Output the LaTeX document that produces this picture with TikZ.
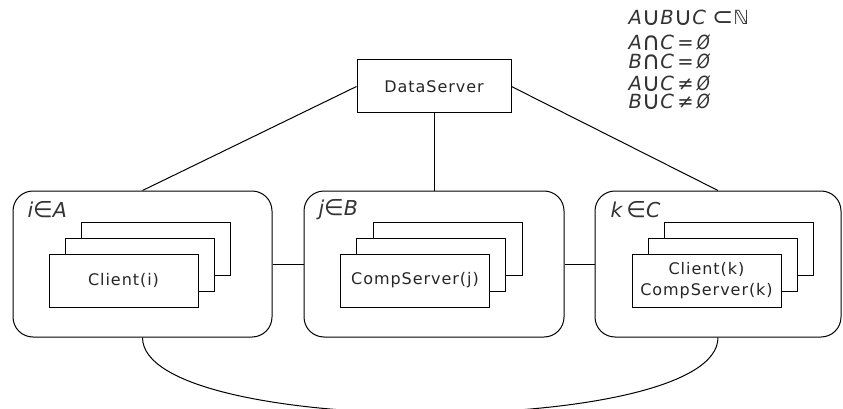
\documentclass[tikz,border=0pt]{standalone}
\usepackage{fontspec}
\setmainfont{DejaVu Sans}
\newfontfamily\boxfont[LetterSpace=6]{DejaVu Sans}
% enlarged set-operator glyphs
\newcommand{\bigop}[1]{\raisebox{-0.05em}{\scalebox{1.3}{#1}}}
\newcommand{\elem}{\scalebox{1.1}{∈}}
\newcommand{\emptyslash}{\textit{\scalebox{0.85}[1]{Ø}}}
\begin{document}
\begin{tikzpicture}[x=1pt, y=-1pt, line width=1pt,
  group/.style={draw, rounded corners=20pt, minimum height=146pt, inner sep=0pt},
  card/.style={draw, fill=white, minimum width=149pt, minimum height=53pt, inner sep=0pt,
               font=\boxfont\fontsize{16}{19}\selectfont, text=black!85, align=center},
  setlabel/.style={anchor=west, inner sep=0pt, font=\fontsize{20.5}{22}\selectfont, text=black!80},
  rel/.style={anchor=north west, inner sep=0pt, align=left,
              font=\fontsize{19.5}{19.5}\selectfont, text=black!80}]
\useasboundingbox (0,0) rectangle (843,409);

% data server
\node[card, minimum width=154pt] (ds) at (434,86.5) {DataServer};

% the three groups
\node[group, minimum width=259pt] (A) at (142.5,264) {};
\node[group, minimum width=260pt] (B) at (434,264) {};
\node[group, minimum width=246pt] (C) at (718,264) {};

\node[setlabel] (la) at (27,210) {\textit{i}\elem\textit{A}};
\node[setlabel] (lb) at (318,210) {\textit{j}\elem\textit{B}};
\node[setlabel] (lc) at (610,210) {\textit{k}\,\elem\textit{C}};

% stacked process cards
\node[card] (a3) at (155.5,248.5) {};
\node[card] (a2) at (140,264.5) {};
\node[card] (a1) at (123.5,280.5) {Client(i)};

\node[card] (b3) at (447.5,248.5) {};
\node[card] (b2) at (431,264.5) {};
\node[card] (b1) at (415,280.5) {CompServer(j)};

\node[card] (c3) at (738.5,248.5) {};
\node[card] (c2) at (723,264.5) {};
\node[card, font=\boxfont\fontsize{16}{21}\selectfont] (c1) at (706.5,280.5) {Client(k)\\CompServer(k)};

% connections
\draw (ds.west) -- (A.north);
\draw (ds.south) -- (B.north);
\draw (ds.east) -- (C.north);
\draw (A.east) -- (B.west);
\draw (B.east) -- (C.west);
\draw (A.south) .. controls +(0,101) and +(0,101) .. (C.south);

% set relations
\node[rel] (rels) at (628,10) {%
  \textit{A}\bigop{∪}\textit{B}\bigop{∪}\textit{C} \bigop{⊂}ℕ\\[5.5pt]
  \textit{A}\bigop{∩}\textit{C}\,=\,\emptyslash\\[-0.5pt]
  \textit{B}\bigop{∩}\textit{C}\,=\,\emptyslash\\[2.5pt]
  \textit{A}\bigop{∪}\textit{C}\,≠\,\emptyslash\\[-1.5pt]
  \textit{B}\bigop{∪}\textit{C}\,≠\,\emptyslash};
\end{tikzpicture}
\end{document}
